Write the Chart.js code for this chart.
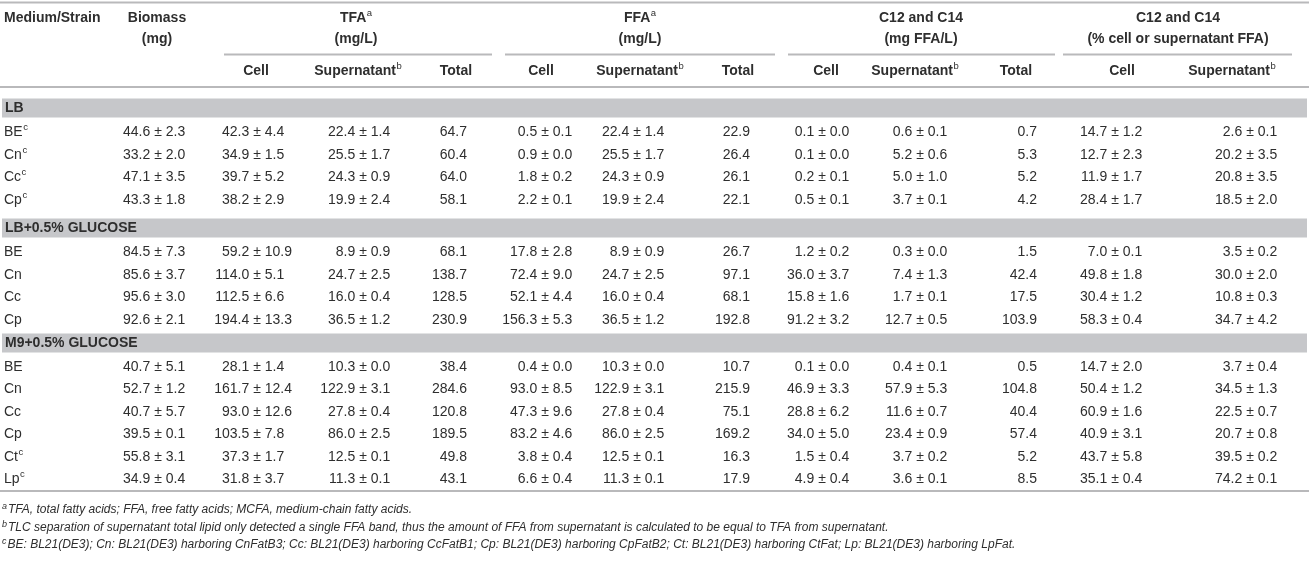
<!DOCTYPE html>
<html>
<head>
<meta charset="utf-8">
<script src="https://cdn.jsdelivr.net/npm/chart.js@4.4.1/dist/chart.umd.min.js"></script>
<style>
  html, body { margin: 0; padding: 0; background: #fff; }
  #wrap { width: 1309px; height: 565px; position: relative; }
</style>
</head>
<body>
<div id="wrap"><canvas id="tableChart"></canvas></div>
<script>
// table content
const mediums = ['LB', 'LB+0.5% GLUCOSE', 'M9+0.5% GLUCOSE'];
const strains = [
    ['BE', 'Cn', 'Cc', 'Cp'],
    ['BE', 'Cn', 'Cc', 'Cp'],
    ['BE', 'Cn', 'Cc', 'Cp', 'Ct', 'Lp']
];
const strainNotes = [
    ['c', 'c', 'c', 'c'],
    ['', '', '', ''],
    ['', '', '', '', 'c', 'c']
];

// [mean, sd] per strain, in row order
const biomass = [[44.6, 2.3], [33.2, 2.0], [47.1, 3.5], [43.3, 1.8],
    [84.5, 7.3], [85.6, 3.7], [95.6, 3.0], [92.6, 2.1],
    [40.7, 5.1], [52.7, 1.2], [40.7, 5.7], [39.5, 0.1], [55.8, 3.1], [34.9, 0.4]];
const tfaCell = [[42.3, 4.4], [34.9, 1.5], [39.7, 5.2], [38.2, 2.9],
    [59.2, 10.9], [114.0, 5.1], [112.5, 6.6], [194.4, 13.3],
    [28.1, 1.4], [161.7, 12.4], [93.0, 12.6], [103.5, 7.8], [37.3, 1.7], [31.8, 3.7]];
const tfaSup = [[22.4, 1.4], [25.5, 1.7], [24.3, 0.9], [19.9, 2.4],
    [8.9, 0.9], [24.7, 2.5], [16.0, 0.4], [36.5, 1.2],
    [10.3, 0.0], [122.9, 3.1], [27.8, 0.4], [86.0, 2.5], [12.5, 0.1], [11.3, 0.1]];
const tfaTotal = [64.7, 60.4, 64.0, 58.1, 68.1, 138.7, 128.5, 230.9,
    38.4, 284.6, 120.8, 189.5, 49.8, 43.1];
const ffaCell = [[0.5, 0.1], [0.9, 0.0], [1.8, 0.2], [2.2, 0.1],
    [17.8, 2.8], [72.4, 9.0], [52.1, 4.4], [156.3, 5.3],
    [0.4, 0.0], [93.0, 8.5], [47.3, 9.6], [83.2, 4.6], [3.8, 0.4], [6.6, 0.4]];
const ffaSup = [[22.4, 1.4], [25.5, 1.7], [24.3, 0.9], [19.9, 2.4],
    [8.9, 0.9], [24.7, 2.5], [16.0, 0.4], [36.5, 1.2],
    [10.3, 0.0], [122.9, 3.1], [27.8, 0.4], [86.0, 2.5], [12.5, 0.1], [11.3, 0.1]];
const ffaTotal = [22.9, 26.4, 26.1, 22.1, 26.7, 97.1, 68.1, 192.8,
    10.7, 215.9, 75.1, 169.2, 16.3, 17.9];
const c12Cell = [[0.1, 0.0], [0.1, 0.0], [0.2, 0.1], [0.5, 0.1],
    [1.2, 0.2], [36.0, 3.7], [15.8, 1.6], [91.2, 3.2],
    [0.1, 0.0], [46.9, 3.3], [28.8, 6.2], [34.0, 5.0], [1.5, 0.4], [4.9, 0.4]];
const c12Sup = [[0.6, 0.1], [5.2, 0.6], [5.0, 1.0], [3.7, 0.1],
    [0.3, 0.0], [7.4, 1.3], [1.7, 0.1], [12.7, 0.5],
    [0.4, 0.1], [57.9, 5.3], [11.6, 0.7], [23.4, 0.9], [3.7, 0.2], [3.6, 0.1]];
const c12Total = [0.7, 5.3, 5.2, 4.2, 1.5, 42.4, 17.5, 103.9,
    0.5, 104.8, 40.4, 57.4, 5.2, 8.5];
const pctCell = [[14.7, 1.2], [12.7, 2.3], [11.9, 1.7], [28.4, 1.7],
    [7.0, 0.1], [49.8, 1.8], [30.4, 1.2], [58.3, 0.4],
    [14.7, 2.0], [50.4, 1.2], [60.9, 1.6], [40.9, 3.1], [43.7, 5.8], [35.1, 0.4]];
const pctSup = [[2.6, 0.1], [20.2, 3.5], [20.8, 3.5], [18.5, 2.0],
    [3.5, 0.2], [30.0, 2.0], [10.8, 0.3], [34.7, 4.2],
    [3.7, 0.4], [34.5, 1.3], [22.5, 0.7], [20.7, 0.8], [39.5, 0.2], [74.2, 0.1]];

const columns = [biomass, tfaCell, tfaSup, tfaTotal, ffaCell, ffaSup, ffaTotal,
    c12Cell, c12Sup, c12Total, pctCell, pctSup];

const topHeaders = [
    { lines: ['Biomass', '(mg)'], sup: '' },
    { lines: ['TFA', '(mg/L)'], sup: 'a' },
    { lines: ['FFA', '(mg/L)'], sup: 'a' },
    { lines: ['C12 and C14', '(mg FFA/L)'], sup: '' },
    { lines: ['C12 and C14', '(% cell or supernatant FFA)'], sup: '' }
];
const subHeaders = ['Cell', 'Supernatant', 'Total', 'Cell', 'Supernatant', 'Total',
    'Cell', 'Supernatant', 'Total', 'Cell', 'Supernatant'];

const footnotes = [
    ['a', 'TFA, total fatty acids; FFA, free fatty acids; MCFA, medium-chain fatty acids.'],
    ['b', 'TLC separation of supernatant total lipid only detected a single FFA band, thus the amount of FFA from supernatant is calculated to be equal to TFA from supernatant.'],
    ['c', 'BE: BL21(DE3); Cn: BL21(DE3) harboring CnFatB3; Cc: BL21(DE3) harboring CcFatB1; Cp: BL21(DE3) harboring CpFatB2; Ct: BL21(DE3) harboring CtFat; Lp: BL21(DE3) harboring LpFat.']
];

// layout (page units = pixels of the 1309x565 frame)
const W = 1309, H = 565;
const FONT = '"Liberation Sans", Arial, sans-serif';
const TEXT = '#2e2e2e';
const RULE = '#b9b9bb';
const BAND = '#c6c7ca';
const colX = [158, 257, 363, 467, 545, 637, 750, 822, 920, 1037, 1115, 1250];
const topHeadX = [157, 356, 640, 921, 1178];
const subHeadX = [256, 358, 456, 541, 640, 738, 826, 915, 1016, 1122, 1232];
const groupRules = [[224, 492], [505, 775], [788, 1055], [1063, 1292]];
const HEAD1_Y = 18.5, HEAD2_Y = 39.5, GROUP_RULE_Y = 54.5, SUB_Y = 71.5;
const TOP_RULE_Y = 2.5, HEAD_RULE_Y = 87, BOTTOM_RULE_Y = 491;
const bandY = [108, 228, 343];
const BAND_HALF = 9.5;
const rowY = [132.5, 155, 177.5, 200, 252.5, 275, 297.5, 320,
    367, 389.5, 412, 434.5, 457, 479.5];
const footY = [510, 528, 545];

// one point per table cell; positions go through the chart scales
const cells = [];
columns.forEach((col, c) => {
    col.forEach((v, r) => {
        cells.push({ x: colX[c], y: rowY[r], v: v });
    });
});

function drawSup(ctx, base, sup, x, y, align, weight, size) {
    ctx.font = weight + ' ' + size + 'px ' + FONT;
    const wb = ctx.measureText(base).width;
    ctx.font = '9.5px ' + FONT;
    const ws = sup ? ctx.measureText(sup).width + 0.5 : 0;
    let left = x;
    if (align === 'center') left = x - (wb + ws) / 2;
    else if (align === 'right') left = x - wb - ws;
    ctx.textAlign = 'left';
    ctx.font = weight + ' ' + size + 'px ' + FONT;
    ctx.fillText(base, left, y);
    if (sup) {
        ctx.font = '9.5px ' + FONT;
        ctx.fillText(sup, left + wb + 0.5, y - 5);
    }
}

const tablePlugin = {
    id: 'tableDraw',
    beforeDatasetsDraw(chart) {
        const ctx = chart.ctx;
        const xs = chart.scales.x, ys = chart.scales.y;
        ctx.save();
        // medium bands
        ctx.fillStyle = BAND;
        bandY.forEach(b => {
            const y0 = ys.getPixelForValue(b - BAND_HALF), y1 = ys.getPixelForValue(b + BAND_HALF);
            ctx.fillRect(xs.getPixelForValue(2), y0, xs.getPixelForValue(1307) - xs.getPixelForValue(2), y1 - y0);
        });
        // rules
        ctx.strokeStyle = RULE;
        ctx.lineWidth = 2;
        const hline = (x0, x1, y) => {
            ctx.beginPath();
            ctx.moveTo(xs.getPixelForValue(x0), ys.getPixelForValue(y));
            ctx.lineTo(xs.getPixelForValue(x1), ys.getPixelForValue(y));
            ctx.stroke();
        };
        hline(0, W, TOP_RULE_Y);
        hline(0, W, HEAD_RULE_Y);
        hline(0, W, BOTTOM_RULE_Y);
        groupRules.forEach(g => hline(g[0], g[1], GROUP_RULE_Y));
        ctx.restore();
    },
    afterDatasetsDraw(chart) {
        const ctx = chart.ctx;
        const xs = chart.scales.x, ys = chart.scales.y;
        const px = v => xs.getPixelForValue(v), py = v => ys.getPixelForValue(v);
        ctx.save();
        ctx.fillStyle = TEXT;
        ctx.textBaseline = 'middle';

        // header
        drawSup(ctx, 'Medium/Strain', '', px(4), py(HEAD1_Y), 'left', 'bold', 14);
        topHeaders.forEach((h, i) => {
            drawSup(ctx, h.lines[0], h.sup, px(topHeadX[i]), py(HEAD1_Y), 'center', 'bold', 14);
            drawSup(ctx, h.lines[1], '', px(topHeadX[i]), py(HEAD2_Y), 'center', 'bold', 14);
        });
        subHeaders.forEach((s, i) => {
            drawSup(ctx, s, s === 'Supernatant' ? 'b' : '', px(subHeadX[i]), py(SUB_Y), 'center', 'bold', 14);
        });

        // medium bands and strain labels
        let r = 0;
        mediums.forEach((m, g) => {
            drawSup(ctx, m, '', px(5), py(bandY[g]), 'left', 'bold', 14);
            strains[g].forEach((s, i) => {
                drawSup(ctx, s, strainNotes[g][i], px(4), py(rowY[r]), 'left', 'normal', 14);
                r++;
            });
        });

        // values, aligned on the ± sign
        ctx.font = '14px ' + FONT;
        const sp = ctx.measureText(' ').width;
        const half = ctx.measureText('±').width / 2;
        const meta = chart.getDatasetMeta(0);
        meta.data.forEach((el, i) => {
            const v = cells[i].v;
            if (Array.isArray(v)) {
                ctx.textAlign = 'right';
                ctx.fillText(v[0].toFixed(1), el.x - half - sp, el.y);
                ctx.textAlign = 'center';
                ctx.fillText('±', el.x, el.y);
                ctx.textAlign = 'left';
                ctx.fillText(v[1].toFixed(1), el.x + half + sp, el.y);
            } else {
                ctx.textAlign = 'right';
                ctx.fillText(v.toFixed(1), el.x, el.y);
            }
        });

        // footnotes
        footnotes.forEach((f, i) => {
            ctx.font = 'italic 9px ' + FONT;
            ctx.textAlign = 'left';
            ctx.fillText(f[0], px(2), py(footY[i]) - 4);
            const w = ctx.measureText(f[0]).width;
            ctx.font = 'italic 12px ' + FONT;
            ctx.fillText(f[1], px(2) + w + 1, py(footY[i]));
        });
        ctx.restore();
    }
};

new Chart(document.getElementById('tableChart'), {
    type: 'scatter',
    data: {
        datasets: [{
            data: cells,
            pointRadius: 0,
            pointHoverRadius: 0
        }]
    },
    options: {
        responsive: true,
        maintainAspectRatio: false,
        animation: false,
        layout: { padding: 0 },
        events: [],
        plugins: {
            legend: { display: false },
            tooltip: { enabled: false }
        },
        scales: {
            x: { type: 'linear', min: 0, max: W, display: false },
            y: { type: 'linear', min: 0, max: H, reverse: true, display: false }
        }
    },
    plugins: [tablePlugin]
});
</script>
</body>
</html>
